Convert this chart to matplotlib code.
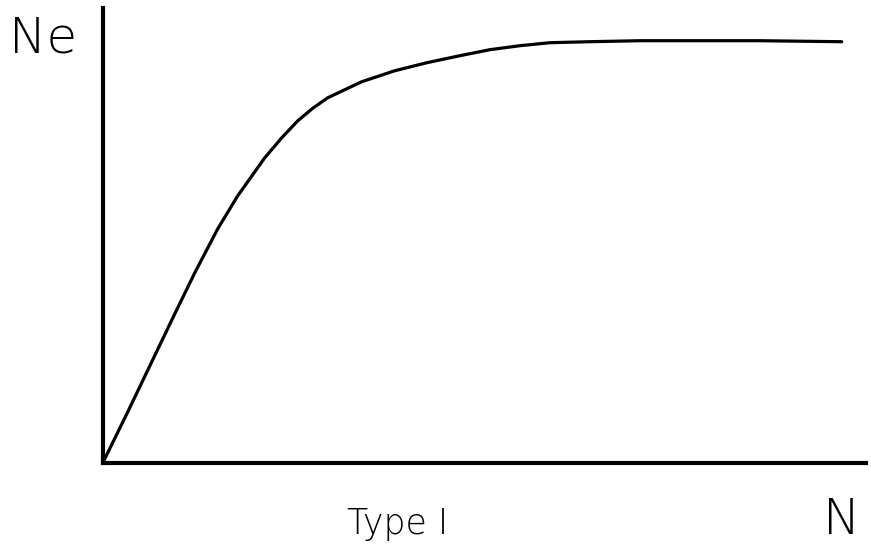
import matplotlib.pyplot as plt

# curve (arbitrary units, axes run 0..100)
n_vals = [0, 3.28, 6.42, 9.44, 12.06, 15.07, 17.69, 21.23, 23.46, 25.56,
          27.52, 29.49, 33.94, 38.27, 42.46, 46.79, 50.72, 54.65, 58.58,
          63.83, 70.38, 78.24, 86.11, 96.85]
ne_vals = [0, 11.21, 22.20, 32.75, 41.76, 51.43, 58.68, 67.03, 71.43, 75.16,
           77.91, 80.22, 83.74, 86.15, 87.91, 89.45, 90.77, 91.65, 92.31,
           92.53, 92.75, 92.75, 92.75, 92.53]

x_label = "N"
y_label = "Ne"
caption = "Type I"

fig = plt.figure(figsize=(8.71, 5.51), dpi=100)
ax = fig.add_axes([0.118, 0.160, 0.876, 0.826])

ax.plot(n_vals, ne_vals, color="black", lw=2.3,
        solid_capstyle="round", solid_joinstyle="round")

ax.set_xlim(0, 100)
ax.set_ylim(0, 100)
for side in ["top", "right"]:
    ax.spines[side].set_visible(False)
for side in ["left", "bottom"]:
    ax.spines[side].set_linewidth(3.0)
ax.set_xticks([])
ax.set_yticks([])

fig.text(0.010, 0.905, y_label, fontsize=36, family="DejaVu Sans",
         fontweight="light", ha="left", va="baseline")
fig.text(0.988, 0.030, x_label, fontsize=36, family="DejaVu Sans",
         fontweight="light", ha="right", va="baseline")
fig.text(0.456, 0.030, caption, fontsize=25, family="DejaVu Sans",
         fontweight="light", ha="center", va="baseline")

fig.savefig("out.png", dpi=100)
